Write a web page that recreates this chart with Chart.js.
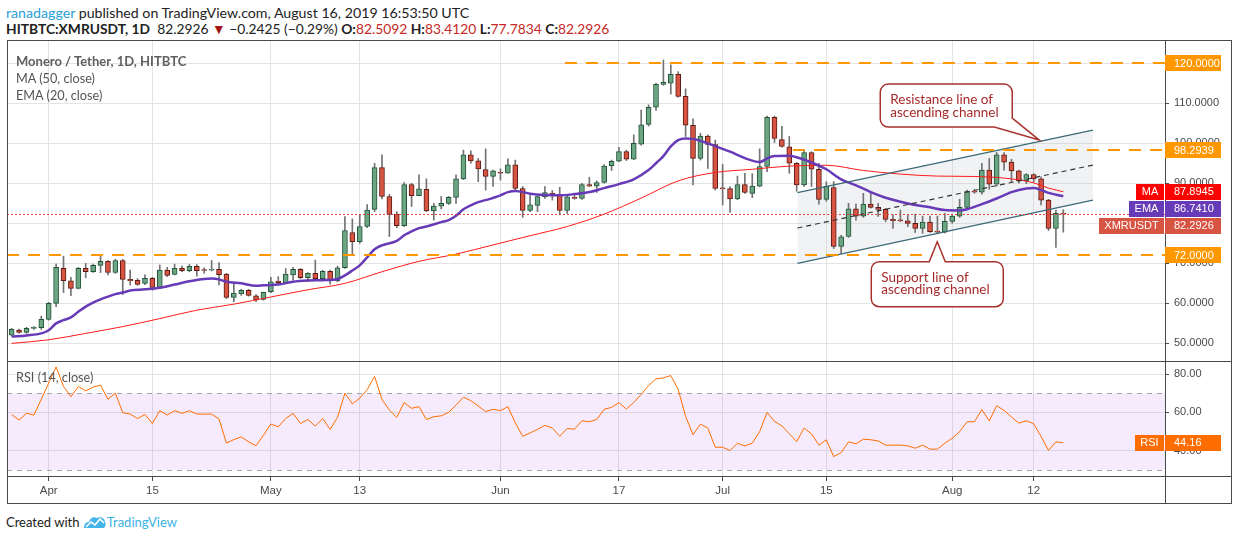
<!DOCTYPE html>
<html>
<head>
<meta charset="utf-8">
<title>Monero / Tether, 1D, HITBTC</title>
<script src="https://cdn.jsdelivr.net/npm/chart.js@4.4.1/dist/chart.umd.min.js"></script>
<style>
  body { margin: 0; background: #fff; font-family: Lato, "Liberation Sans", sans-serif; }
  #page { position: relative; width: 1234px; height: 540px; overflow: hidden; }
  canvas { position: absolute; }
  .t { position: absolute; white-space: nowrap; line-height: 16px; }
  .ln { position: absolute; background: #4a4a4a; }
  .red { color: #c62828; }
</style>
</head>
<body>
<div id="page">
  <canvas id="main" width="1225" height="321" style="left:7px;top:40px"></canvas>
  <canvas id="osc" width="1225" height="142" style="left:7px;top:361px"></canvas>

  <div class="ln" style="left:7px;top:40px;width:1225px;height:1px"></div>
  <div class="ln" style="left:7px;top:40px;width:1px;height:464px"></div>
  <div class="ln" style="left:1231px;top:40px;width:1px;height:464px"></div>
  <div class="ln" style="left:7px;top:503px;width:1225px;height:1px"></div>
  <div class="ln" style="left:7px;top:361px;width:1225px;height:1px"></div>
  <div class="ln" style="left:7px;top:476px;width:1225px;height:1px"></div>
  <div class="ln" style="left:1165px;top:476px;width:1px;height:28px"></div>

  <div class="t" style="left:6px;top:5px;font-size:14.2px;color:#222"><span style="color:#2b9fd8">ranadagger</span> published on TradingView.com, August 16, 2019 16:53:50 UTC</div>
  <div class="t" style="left:6px;top:21px;font-size:13.8px;color:#222"><b>HITBTC:XMRUSDT, 1D</b>&nbsp; 82.2926 <span style="color:#a31515">&#9660;</span> &minus;0.2425 (&minus;0.29%) <b>O:</b><span class="red">82.5092</span> <b>H:</b><span class="red">83.4120</span> <b>L:</b><span class="red">77.7834</span> <b>C:</b><span class="red">82.2926</span></div>

  <div class="t" style="left:16px;top:53px;font-size:13px;font-weight:700;color:#5f5f5f">Monero / Tether, 1D, HITBTC</div>
  <div class="t" style="left:16px;top:70px;font-size:12.7px;color:#555">MA (50, close)</div>
  <div class="t" style="left:16px;top:87px;font-size:12.7px;color:#555">EMA (20, close)</div>
  <div class="t" style="left:16px;top:369px;font-size:12.7px;color:#555">RSI (14, close)</div>

  <div class="t" style="left:6px;top:514px;font-size:13px;color:#222">Created with
    <svg width="24" height="14" viewBox="0 0 24 14" style="vertical-align:-2px">
      <path d="M1 13 C1 9 3 7 6 7 C7 3 11 1 14 3 C17 1 22 3 22 7 C23 8 23 13 20 13 Z" fill="#43b5e8"/>
      <path d="M3 12 L8 7 L12 10 L17 4 L21 8" fill="none" stroke="#fff" stroke-width="1.6"/>
    </svg><span style="color:#3bb3e4">TradingView</span></div>
</div>

<script>
// daily candles, 2019-03-27 .. 2019-08-16 (index 0 = Mar 27)
const opens = [
  52.08, 53.35, 52.74, 53.74, 53.9, 55.99, 59.99, 68.74, 65.66, 63.74,
  68.74, 67.9, 69.5, 70.5, 67.7, 70.7, 65.99, 65.74, 64.99, 66.24,
  63.99, 68.33, 67.24, 68.74, 68.16, 69.24, 68.3, 68.3, 68.49, 67.33,
  61.49, 62.33, 63.24, 61.91, 60.99, 62.9, 65.58, 65.2, 67.1, 68.5,
  66.4, 67.5, 66.2, 68.0, 65.6, 68.9, 77.7, 75.4, 79.2, 83.5,
  93.9, 86.7, 82.3, 79.4, 89.7, 86.9, 88.5, 83.1, 84.3, 85.0,
  86.5, 91.1, 97.1, 95.6, 93.4, 91.7, 92.7, 92.5, 94.6, 88.7,
  83.2, 84.5, 86.6, 87.5, 87.1, 83.2, 86.5, 86.2, 89.7, 89.25,
  90.2, 94.4, 95.5, 97.9, 96.0, 99.8, 104.7, 109.0, 114.7, 115.0,
  117.2, 111.7, 104.5, 96.2, 101.8, 99.7, 88.7, 88.7, 86.1, 89.7,
  87.5, 89.3, 94.2, 106.5, 100.9, 99.1, 95.0, 89.6, 97.7, 93.5,
  86.0, 88.9, 74.2, 76.7, 83.6, 81.8, 84.8, 84.0, 83.5, 81.0,
  80.8, 80.6, 80.0, 78.7, 80.3, 77.9, 77.8, 80.5, 81.8, 84.0,
  87.9, 87.8, 93.3, 89.8, 97.1, 95.3, 93.1, 90.6, 92.2, 91.1,
  85.8, 78.7, 82.5092
];
const highs = [
  53.74, 53.6, 54.0, 54.2, 56.8, 60.25, 69.8, 71.8, 66.5, 69.0,
  70.0, 69.8, 72.1, 70.7, 71.0, 71.0, 68.3, 66.2, 67.1, 66.5,
  69.6, 69.0, 69.8, 69.3, 69.7, 69.7, 68.9, 70.7, 70.2, 67.5,
  65.2, 63.5, 63.5, 62.2, 62.8, 66.5, 66.66, 68.7, 69.0, 68.7,
  67.66, 70.8, 68.3, 68.3, 69.3, 81.7, 81.1, 82.2, 84.7, 95.0,
  97.1, 87.2, 82.9, 90.2, 90.0, 92.1, 91.1, 85.0, 86.7, 86.7,
  92.1, 98.3, 98.1, 96.2, 98.6, 93.3, 93.6, 96.1, 95.8, 89.2,
  87.1, 86.8, 89.2, 88.2, 89.0, 87.1, 87.1, 90.0, 91.5, 90.6,
  94.7, 95.8, 99.0, 98.3, 102.1, 108.3, 109.6, 115.0, 120.8, 119.6,
  117.9, 113.6, 106.1, 102.5, 102.1, 100.8, 94.7, 89.2, 91.8, 92.5,
  92.4, 98.6, 106.8, 106.8, 104.2, 101.7, 95.2, 98.3, 97.9, 95.0,
  90.4, 90.4, 77.0, 85.0, 84.8, 87.5, 87.5, 85.0, 83.7, 82.1,
  83.3, 82.1, 82.3, 81.8, 81.8, 81.8, 82.5, 82.2, 86.0, 88.3,
  88.4, 95.0, 96.2, 97.7, 97.7, 96.0, 93.3, 92.4, 92.4, 91.6,
  86.0, 83.3, 83.412
];
const lows = [
  51.83, 52.58, 52.5, 53.5, 53.5, 55.8, 59.2, 62.7, 61.9, 63.6,
  66.4, 67.7, 67.7, 67.1, 67.5, 62.2, 64.6, 64.5, 64.7, 63.3,
  63.7, 66.7, 67.1, 67.9, 67.9, 66.8, 67.5, 68.1, 64.6, 61.2,
  60.4, 62.0, 61.8, 60.4, 60.8, 62.7, 64.8, 65.0, 65.8, 66.2,
  65.4, 65.8, 65.8, 64.8, 65.4, 68.7, 72.3, 75.0, 78.9, 82.9,
  86.1, 76.7, 78.9, 79.2, 84.2, 86.9, 82.9, 80.8, 83.6, 84.7,
  85.0, 90.9, 95.0, 90.4, 88.3, 89.2, 90.8, 92.5, 88.3, 81.5,
  82.9, 82.9, 86.2, 85.8, 82.1, 82.5, 86.0, 86.0, 89.2, 87.7,
  90.0, 93.2, 95.4, 95.7, 95.9, 99.5, 104.3, 108.2, 114.5, 112.3,
  111.5, 101.7, 89.6, 95.8, 93.7, 88.3, 84.6, 82.7, 85.9, 87.5,
  86.4, 89.1, 92.9, 100.2, 99.0, 92.5, 88.0, 89.2, 89.2, 84.8,
  85.5, 73.7, 72.5, 76.5, 80.8, 81.5, 83.8, 81.7, 80.4, 78.7,
  80.4, 79.2, 77.7, 77.5, 77.7, 77.5, 77.6, 80.0, 81.5, 83.8,
  87.5, 87.3, 88.5, 89.3, 93.3, 90.4, 90.0, 89.9, 90.3, 84.6,
  78.2, 74.0, 77.7834
];
const closes = [
  53.49, 52.74, 53.74, 53.9, 55.99, 59.99, 68.99, 65.66, 63.74, 68.74,
  67.9, 69.5, 70.5, 67.7, 70.7, 65.99, 65.66, 64.74, 66.24, 63.99,
  68.33, 66.99, 68.74, 68.16, 69.24, 68.16, 68.2, 68.5, 67.16, 61.49,
  62.58, 63.24, 61.99, 60.83, 62.74, 65.4, 65.2, 67.3, 68.5, 66.4,
  67.5, 66.2, 68.0, 65.6, 68.9, 78.2, 75.4, 79.2, 83.3, 93.9,
  86.7, 82.2, 79.4, 89.7, 86.9, 88.6, 83.1, 84.3, 85.0, 86.5,
  91.1, 97.1, 95.6, 93.6, 91.7, 93.1, 92.5, 94.6, 88.7, 83.2,
  84.6, 86.7, 87.7, 87.1, 83.2, 86.6, 86.2, 89.7, 89.25, 90.2,
  94.3, 95.5, 97.9, 96.0, 100.0, 104.6, 109.0, 114.7, 115.2, 117.2,
  111.7, 104.5, 96.2, 101.8, 99.7, 88.7, 88.6, 86.1, 89.7, 87.7,
  89.3, 94.2, 106.5, 101.2, 99.2, 95.0, 89.6, 97.7, 93.5, 86.0,
  89.3, 74.2, 76.6, 83.6, 81.8, 84.8, 84.0, 83.5, 81.0, 80.6,
  80.6, 80.0, 78.7, 80.3, 77.9, 77.8, 80.5, 81.8, 84.0, 87.9,
  87.8, 93.3, 89.8, 97.1, 95.3, 93.1, 90.6, 92.2, 91.1, 85.8,
  78.7, 82.51, 82.2926
];
const rsi = [
  58.9, 56.0, 59.5, 58.6, 66.8, 75.3, 83.7, 73.5, 68.2, 73.5,
  71.2, 73.2, 74.2, 66.8, 70.0, 59.8, 59.1, 56.8, 58.9, 54.2,
  60.9, 58.6, 60.9, 59.5, 60.9, 59.1, 59.1, 59.1, 56.5, 44.0,
  45.8, 47.2, 44.6, 42.6, 48.1, 53.9, 52.5, 56.8, 59.5, 54.2,
  56.3, 52.8, 56.8, 51.1, 57.4, 70.0, 64.4, 67.4, 71.8, 78.8,
  66.8, 61.2, 57.4, 65.1, 62.1, 63.0, 56.3, 57.7, 58.2, 60.0,
  63.9, 67.9, 66.1, 63.3, 60.4, 61.6, 60.9, 63.0, 54.6, 47.5,
  49.3, 51.1, 53.2, 51.9, 47.5, 51.6, 51.2, 55.6, 55.1, 56.3,
  61.6, 62.6, 65.1, 61.7, 65.2, 69.3, 74.0, 77.5, 78.0, 79.2,
  71.9, 57.9, 48.3, 53.9, 51.8, 41.8, 41.8, 40.1, 43.9, 42.5,
  43.9, 50.0, 60.0, 55.3, 53.0, 48.8, 44.8, 51.8, 48.8, 42.9,
  45.7, 36.9, 39.0, 44.6, 43.6, 46.0, 45.7, 45.1, 42.9, 42.9,
  42.9, 42.5, 41.3, 42.9, 40.8, 40.8, 43.9, 46.5, 50.0, 55.1,
  55.1, 61.4, 55.6, 63.5, 61.0, 57.6, 54.4, 55.6, 54.1, 47.4,
  40.1, 44.6, 44.16
];

// moving averages at these day indexes
const maIdx = [0, 5, 10, 15, 20, 25, 30, 35, 40, 45, 50, 55, 60, 65, 70, 75, 80, 85, 90, 95,
  100, 105, 110, 115, 120, 125, 130, 135, 138, 140, 142];
const maVal = [50.0, 50.9, 52.5, 54.2, 56.2, 58.3, 59.8, 61.6, 63.4, 65.0, 67.9, 70.5, 72.3, 74.6,
  76.9, 79.2, 82.3, 86.3, 90.6, 92.7, 93.5, 94.3, 94.5, 93.2, 92.3, 91.8, 91.7, 91.1, 90.1, 88.8, 87.8945];
const emaIdx = [0, 2, 4, 5, 6, 7, 8, 9, 10, 11, 12, 13, 14, 15, 16, 18, 20, 22, 24, 26,
  27, 28, 29, 31, 33, 34, 36, 38, 40, 42, 44, 45, 46, 47, 48, 49, 50, 52, 53, 54,
  55, 56, 58, 59, 60, 61, 62, 63, 64, 66, 67, 68, 70, 72, 74, 76, 78, 80, 82, 84,
  86, 87, 88, 89, 90, 91, 92, 93, 95, 97, 99, 101, 102, 103, 105, 106, 108, 110, 112, 114,
  116, 118, 120, 122, 124, 126, 128, 129, 131, 133, 135, 137, 138, 139, 140, 142];
const emaVal = [51.7, 52.0, 52.5, 53.3, 55.0, 55.8, 56.5, 57.9, 59.2, 60.2, 61.0, 61.7, 62.3, 62.7, 63.2, 63.5, 63.9, 64.7, 65.5, 66.1,
  66.2, 66.0, 65.4, 65.0, 64.4, 64.5, 64.7, 65.4, 65.7, 65.8, 66.1, 67.0, 68.2, 69.5, 71.5, 73.5, 74.5, 75.6, 77.0, 78.0,
  78.8, 79.2, 80.3, 80.8, 81.9, 83.5, 84.5, 85.3, 85.8, 87.0, 87.8, 88.1, 87.4, 87.1, 87.0, 87.3, 87.8, 88.8, 89.8, 91.0,
  93.3, 95.0, 96.8, 99.2, 100.8, 101.2, 101.1, 100.6, 99.3, 97.9, 96.3, 95.3, 96.2, 96.8, 96.9, 96.5, 95.2, 93.5, 91.0, 89.5,
  87.8, 86.4, 85.4, 84.6, 84.0, 83.3, 83.2, 83.5, 84.8, 86.2, 87.8, 88.7, 88.8, 88.3, 87.6, 86.741];

const tickIdx = [5, 19, 35, 47, 66, 82, 96, 110, 127, 138];
const tickText = ['Apr', '15', 'May', '13', 'Jun', '17', 'Jul', '15', 'Aug', '12'];
const priceTicks = [50, 60, 70, 80, 90, 100, 110, 120];
const rsiTicks = [40, 60, 80];

// drawings
const levels = [120, 98.2939, 72];
const levelFrom = [74.7, 105.5, -1];
const channelX = [106.1, 146.0];
const channelTop = [87.65, 103.3];
const channelBot = [70.0, 85.8];
const noteTips = [[138.75, 100.8], [124.98, 75.4]];
const noteText = [['Resistance line of', 'ascending channel'], ['Support line of', 'ascending channel']];

Chart.defaults.font.family = '"Liberation Sans", Arial, sans-serif';
Chart.defaults.font.size = 11;
Chart.defaults.color = '#4a4a4a';

const GRID = '#e3e3e3';
const AXIS = '#4a4a4a';
const X_MIN = -0.63, X_MAX = 155.73;

function fixSize(w, h) {
  return s => {
    if (w !== null) s.width = w;
    if (h !== null) s.height = h;
    s.paddingLeft = s.paddingRight = s.paddingTop = s.paddingBottom = 0;
  };
}

function timeAxis(labels) {
  return {
    type: 'linear', min: X_MIN, max: X_MAX, offset: false,
    afterBuildTicks: s => { s.ticks = tickIdx.map(v => ({ value: v })); },
    afterFit: fixSize(null, labels ? 27 : 0),
    grid: { color: GRID, offset: false, drawTicks: labels, tickLength: 5, tickColor: AXIS },
    border: { display: false },
    ticks: { display: labels, padding: 3, maxRotation: 0, autoSkip: false, color: '#4a4a4a',
      font: { size: 11.5 }, callback: (v, i) => tickText[i] }
  };
}

function tag(ctx, right, cy, color, name, value) {
  ctx.font = '11px "Liberation Sans", Arial, sans-serif';
  ctx.textBaseline = 'middle';
  ctx.fillStyle = color;
  ctx.fillRect(right, Math.round(cy - 8), 56, 16);
  ctx.fillStyle = '#fff';
  ctx.textAlign = 'left';
  ctx.fillText(value, right + 9, cy + 0.5);
  if (name) {
    const w = Math.round(ctx.measureText(name).width + 11);
    ctx.fillStyle = color;
    ctx.fillRect(right - 1 - w, Math.round(cy - 8), w, 16);
    ctx.fillStyle = '#fff';
    ctx.textAlign = 'center';
    ctx.fillText(name, right - 1 - w / 2, cy + 0.5);
  }
}

function note(ctx, tx, ty, below, lines) {
  const r = 8, W = 132;
  let L, T, H;
  ctx.beginPath();
  if (!below) {
    L = tx - 159; T = ty - 56; H = 43;
    const R = L + W, B = T + H;
    ctx.moveTo(L + r, T);
    ctx.lineTo(R - r, T); ctx.arcTo(R, T, R, T + r, r);
    ctx.lineTo(R, B - 9); ctx.lineTo(tx, ty); ctx.lineTo(R - 18, B);
    ctx.lineTo(L + r, B); ctx.arcTo(L, B, L, B - r, r);
    ctx.lineTo(L, T + r); ctx.arcTo(L, T, L + r, T, r);
  } else {
    L = tx - 66; T = ty + 20; H = 45;
    const R = L + W, B = T + H;
    ctx.moveTo(L + r, T);
    ctx.lineTo(L + 58, T); ctx.lineTo(tx, ty); ctx.lineTo(L + 74, T);
    ctx.lineTo(R - r, T); ctx.arcTo(R, T, R, T + r, r);
    ctx.lineTo(R, B - r); ctx.arcTo(R, B, R - r, B, r);
    ctx.lineTo(L + r, B); ctx.arcTo(L, B, L, B - r, r);
    ctx.lineTo(L, T + r); ctx.arcTo(L, T, L + r, T, r);
  }
  ctx.closePath();
  ctx.fillStyle = 'rgba(255,255,255,0.94)';
  ctx.fill();
  ctx.setLineDash([]);
  ctx.lineWidth = 1.5;
  ctx.strokeStyle = '#a8322d';
  ctx.stroke();
  ctx.fillStyle = '#a52a2a';
  ctx.font = '13.5px Lato, sans-serif';
  ctx.textAlign = 'left';
  ctx.textBaseline = 'middle';
  const top = below ? T + 15.5 : T + 16;
  lines.forEach((s, k) => ctx.fillText(s, L + 10, top + k * 12.5));
}

const mainOverlay = {
  id: 'mainOverlay',
  beforeDatasetsDraw(chart) {
    const { ctx, scales: { x, y } } = chart;
    const px = v => x.getPixelForValue(v), py = v => y.getPixelForValue(v);
    ctx.save();
    ctx.beginPath();
    ctx.moveTo(px(channelX[0]), py(channelTop[0]));
    ctx.lineTo(px(channelX[1]), py(channelTop[1]));
    ctx.lineTo(px(channelX[1]), py(channelBot[1]));
    ctx.lineTo(px(channelX[0]), py(channelBot[0]));
    ctx.closePath();
    ctx.fillStyle = 'rgba(190,196,206,0.22)';
    ctx.fill();
    ctx.restore();
  },
  afterDatasetsDraw(chart) {
    const { ctx, chartArea: a, scales: { x, y } } = chart;
    const px = v => x.getPixelForValue(v), py = v => y.getPixelForValue(v);
    ctx.save();
    ctx.beginPath();
    ctx.rect(a.left, a.top, a.right - a.left, a.bottom - a.top);
    ctx.clip();

    // channel lines
    ctx.lineWidth = 1.2;
    ctx.strokeStyle = '#3b6978';
    [channelTop, channelBot].forEach(line => {
      ctx.beginPath();
      ctx.moveTo(px(channelX[0]), py(line[0]));
      ctx.lineTo(px(channelX[1]), py(line[1]));
      ctx.stroke();
    });
    ctx.setLineDash([5, 4]);
    ctx.strokeStyle = '#333';
    ctx.beginPath();
    ctx.moveTo(px(channelX[0]), py((channelTop[0] + channelBot[0]) / 2));
    ctx.lineTo(px(channelX[1]), py((channelTop[1] + channelBot[1]) / 2));
    ctx.stroke();

    // horizontal levels
    ctx.setLineDash([12, 9]);
    ctx.lineWidth = 2;
    ctx.strokeStyle = '#ff9800';
    levels.forEach((v, k) => {
      const yy = Math.round(py(v));
      ctx.beginPath();
      ctx.moveTo(Math.max(a.left, px(levelFrom[k])), yy);
      ctx.lineTo(a.right, yy);
      ctx.stroke();
    });

    // last price line
    ctx.setLineDash([2, 2]);
    ctx.lineWidth = 1;
    ctx.strokeStyle = '#d9463a';
    const ly = Math.round(py(closes[closes.length - 1])) + 0.5;
    ctx.beginPath();
    ctx.moveTo(a.left, ly);
    ctx.lineTo(a.right, ly);
    ctx.stroke();

    // callouts
    noteTips.forEach((t, k) => note(ctx, px(t[0]), py(t[1]), k === 1, noteText[k]));
    ctx.restore();
  },
  afterDraw(chart) {
    const { ctx, chartArea: a, scales: { y } } = chart;
    ctx.save();
    levels.forEach(v => tag(ctx, a.right, y.getPixelForValue(v), '#ff9800', null, v.toFixed(4)));
    const stack = [
      { v: maVal[maVal.length - 1], name: 'MA', color: '#ff0000' },
      { v: emaVal[emaVal.length - 1], name: 'EMA', color: '#673ab7' },
      { v: closes[closes.length - 1], name: 'XMRUSDT', color: '#d75442' }
    ].map(s => ({ ...s, cy: y.getPixelForValue(s.v) })).sort((p, q) => p.cy - q.cy);
    for (let k = 1; k < stack.length; k++) {
      stack[k].cy = Math.max(stack[k].cy, stack[k - 1].cy + 17);
    }
    stack.forEach(s => tag(ctx, a.right, s.cy, s.color, s.name, s.v.toFixed(4)));
    ctx.restore();
  }
};

const idx = closes.map((_, i) => i);
const up = idx.map(i => closes[i] >= opens[i]);

new Chart(document.getElementById('main'), {
  type: 'bar',
  data: {
    datasets: [
      {
        type: 'line', label: 'EMA (20, close)', order: 0,
        data: emaIdx.map((v, k) => ({ x: v, y: emaVal[k] })),
        borderColor: '#673ab7', borderWidth: 2.5, pointRadius: 0, cubicInterpolationMode: 'monotone'
      },
      {
        type: 'line', label: 'MA (50, close)', order: 1,
        data: maIdx.map((v, k) => ({ x: v, y: maVal[k] })),
        borderColor: '#ff1a1a', borderWidth: 1, pointRadius: 0, cubicInterpolationMode: 'monotone'
      },
      {
        type: 'bar', label: 'body', order: 2, grouped: false,
        data: idx.map(i => ({ x: i, y: [opens[i], closes[i]] })),
        backgroundColor: idx.map(i => up[i] ? '#6ba583' : '#d75442'),
        borderColor: idx.map(i => up[i] ? '#225437' : '#5b1a13'),
        borderWidth: 1, borderSkipped: false, barThickness: 5, minBarLength: 1
      },
      {
        type: 'bar', label: 'wick', order: 3, grouped: false,
        data: idx.map(i => ({ x: i, y: [lows[i], highs[i]] })),
        backgroundColor: '#737375', barThickness: 1
      }
    ]
  },
  options: {
    responsive: false,
    animation: false,
    layout: { padding: 0, autoPadding: false },
    plugins: { legend: { display: false }, tooltip: { enabled: false } },
    scales: {
      x: timeAxis(false),
      y: {
        position: 'right', min: 45.6, max: 125.8, beginAtZero: false,
        afterBuildTicks: s => { s.ticks = priceTicks.map(v => ({ value: v })); },
        afterFit: fixSize(67, null),
        grid: { color: GRID, tickLength: 4, tickColor: AXIS },
        border: { display: true, color: AXIS },
        ticks: { padding: 5, color: '#4a4a4a', callback: v => v.toFixed(4) }
      }
    }
  },
  plugins: [mainOverlay]
});

const oscOverlay = {
  id: 'oscOverlay',
  beforeDatasetsDraw(chart) {
    const { ctx, chartArea: a, scales: { y } } = chart;
    const y70 = y.getPixelForValue(70), y30 = y.getPixelForValue(30);
    ctx.save();
    ctx.fillStyle = 'rgba(170,60,240,0.11)';
    ctx.fillRect(a.left, y70, a.right - a.left, y30 - y70);
    ctx.setLineDash([5, 5]);
    ctx.lineWidth = 1;
    ctx.strokeStyle = '#a3a6af';
    [y70, y30].forEach(v => {
      ctx.beginPath();
      ctx.moveTo(a.left, Math.round(v) + 0.5);
      ctx.lineTo(a.right, Math.round(v) + 0.5);
      ctx.stroke();
    });
    ctx.restore();
  },
  afterDraw(chart) {
    const { ctx, chartArea: a, scales: { y } } = chart;
    const last = rsi[rsi.length - 1];
    ctx.save();
    tag(ctx, a.right, y.getPixelForValue(last), '#ff6d00', 'RSI', last.toFixed(2));
    ctx.restore();
  }
};

new Chart(document.getElementById('osc'), {
  type: 'line',
  data: {
    datasets: [{
      label: 'RSI (14, close)',
      data: idx.map(i => ({ x: i, y: rsi[i] })),
      borderColor: '#ff6d00', borderWidth: 1, pointRadius: 0, tension: 0
    }]
  },
  options: {
    responsive: false,
    animation: false,
    layout: { padding: 0, autoPadding: false },
    plugins: { legend: { display: false }, tooltip: { enabled: false } },
    scales: {
      x: timeAxis(true),
      y: {
        position: 'right', min: 26.8, max: 86.8,
        afterBuildTicks: s => { s.ticks = rsiTicks.map(v => ({ value: v })); },
        afterFit: fixSize(67, null),
        grid: { color: GRID, tickLength: 4, tickColor: AXIS },
        border: { display: true, color: AXIS },
        ticks: { padding: 5, color: '#4a4a4a', callback: v => v.toFixed(2) }
      }
    }
  },
  plugins: [oscOverlay]
});
</script>
</body>
</html>
